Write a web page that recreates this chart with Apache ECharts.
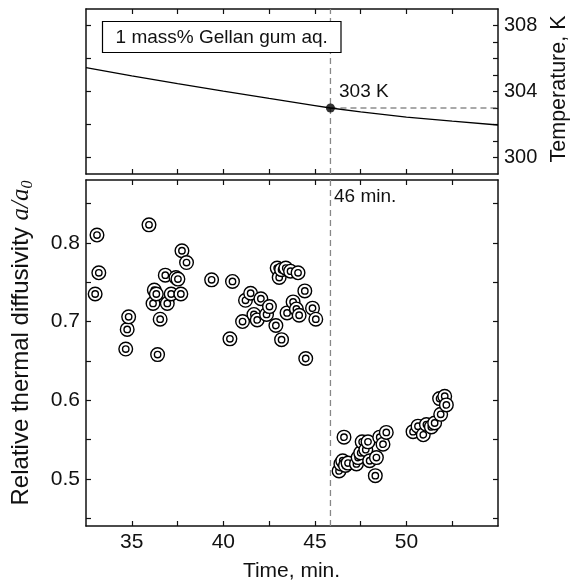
<!DOCTYPE html>
<html><head><meta charset="utf-8">
<script src="https://cdn.jsdelivr.net/npm/echarts@6/dist/echarts.min.js"></script>
<style>html,body{margin:0;padding:0;background:#fff}#c{width:570px;height:582px}</style>
</head><body><div id="c"></div>
<script>
// ---- data ----
const timeRange = [32.5, 55];
const tempRange = [299, 309];
const diffRange = [0.44, 0.88];
const markTime = 45.85;
const markTemp = 303;

const tempTime = [32.5, 35, 37.5, 40, 42.5, 45, 45.85, 47.5, 50, 52.5, 55];
const tempK    = [305.45, 304.95, 304.48, 304.02, 303.58, 303.15, 303.0, 302.76, 302.45, 302.2, 301.97];

const ptTime = [33.0, 33.1, 33.2, 34.67, 34.75, 34.83, 35.94, 36.41, 36.55, 36.16, 36.23, 36.34, 36.83, 36.94, 37.15, 37.41, 37.52, 37.68, 37.74, 37.99,
  39.36, 40.5, 40.36, 41.05, 41.21, 41.49, 41.67, 41.85, 42.05, 42.36, 42.52, 42.87, 43.18, 42.94, 43.05, 43.18, 43.41, 43.67, 44.08, 43.48, 43.81, 43.99, 44.14, 44.45, 44.87, 45.05, 44.5,
  46.32, 46.42, 46.52, 46.67, 46.81, 46.59, 47.27, 47.36, 47.50, 47.58, 47.78, 47.90, 47.99, 48.36, 48.30, 48.54, 48.72, 48.90,
  50.36, 50.63, 50.92, 51.09, 51.36, 51.54, 51.87, 51.81, 52.09, 52.18];
const ptValue = [0.735, 0.810, 0.762, 0.665, 0.690, 0.706, 0.823, 0.658, 0.703, 0.723, 0.740, 0.735, 0.759, 0.723, 0.735, 0.756, 0.754, 0.735, 0.790, 0.775,
  0.753, 0.751, 0.678, 0.700, 0.727, 0.736, 0.709, 0.702, 0.729, 0.709, 0.719, 0.695, 0.677, 0.768, 0.756, 0.766, 0.768, 0.764, 0.762, 0.711, 0.725, 0.716, 0.708, 0.739, 0.717, 0.703, 0.653,
  0.510, 0.519, 0.523, 0.517, 0.520, 0.553, 0.519, 0.527, 0.533, 0.547, 0.537, 0.547, 0.523, 0.527, 0.504, 0.553, 0.544, 0.559,
  0.560, 0.567, 0.556, 0.569, 0.566, 0.571, 0.582, 0.602, 0.605, 0.594];

const xTickLabels = [35, 40, 45, 50];
const xTicks = [35, 37.5, 40, 42.5, 45, 47.5, 50, 52.5];
const tempLabels = [300, 304, 308];
const tempTicksRight = [300, 301, 302, 303, 304, 305, 306, 307, 308];
const tempTicksLeft = [300, 302, 304, 306, 308];
const diffLabels = [0.5, 0.6, 0.7, 0.8];
const diffTicks = [0.45, 0.5, 0.55, 0.6, 0.65, 0.7, 0.75, 0.8, 0.85];

const legendText = '1 mass% Gellan gum aq.';
const markTimeText = '46 min.';
const markTempText = '303 K';
const xTitle = 'Time, min.';
const tempTitle = 'Temperature, K';

// ---- chart ----
const FONT = 'Liberation Sans, Arial, sans-serif';
const INK = '#111';
const axisLine = {show: true, onZero: false, lineStyle: {color: INK, width: 1.5}};
function xAx(grid, pos, labels) {
  return {type: 'value', gridIndex: grid, position: pos, min: timeRange[0], max: timeRange[1],
    axisLine, splitLine: {show: false},
    axisTick: {show: true, inside: true, length: 5, customValues: xTicks, lineStyle: {color: INK, width: 1.2}},
    axisLabel: labels ? {show: true, customValues: xTickLabels, fontSize: 21, color: INK, fontFamily: FONT, margin: 6} : {show: false}};
}
function yAx(grid, pos, range, ticks, labels, fs) {
  return {type: 'value', gridIndex: grid, position: pos, min: range[0], max: range[1],
    axisLine, splitLine: {show: false},
    axisTick: {show: true, inside: true, length: 5, customValues: ticks, lineStyle: {color: INK, width: 1.2}},
    axisLabel: labels ? {show: true, customValues: labels, fontSize: fs, color: INK, fontFamily: FONT, margin: 6} : {show: false}};
}

const chart = echarts.init(document.getElementById('c'), null, {renderer: 'canvas'});
const dashed = {color: '#888', width: 1.3, type: [6, 4]};
chart.setOption({
  animation: false,
  backgroundColor: '#fff',
  grid: [
    {left: 86, right: 72, top: 9, height: 165},
    {left: 86, right: 72, top: 180, height: 346}
  ],
  xAxis: [xAx(0, 'bottom', false), xAx(0, 'top', false), xAx(1, 'bottom', true), xAx(1, 'top', false)],
  yAxis: [
    yAx(0, 'right', tempRange, tempTicksRight, tempLabels, 20),
    yAx(0, 'left', tempRange, tempTicksLeft, null),
    yAx(1, 'left', diffRange, diffTicks, diffLabels, 21),
    yAx(1, 'right', diffRange, diffTicks, null)
  ],
  series: [
    {type: 'line', xAxisIndex: 0, yAxisIndex: 0, silent: true, symbol: 'none', z: 1,
      data: [[markTime, tempRange[0]], [markTime, tempRange[1]]], lineStyle: dashed},
    {type: 'line', xAxisIndex: 0, yAxisIndex: 0, silent: true, symbol: 'none', z: 1,
      data: [[markTime, markTemp], [timeRange[1], markTemp]], lineStyle: {color: '#555', width: 1.2, type: [6, 4]}},
    {type: 'line', xAxisIndex: 0, yAxisIndex: 0, symbol: 'none', z: 2,
      data: tempTime.map((t, i) => [t, tempK[i]]), lineStyle: {color: '#000', width: 1.3}},
    {type: 'scatter', xAxisIndex: 0, yAxisIndex: 0, symbolSize: 9, z: 3,
      itemStyle: {color: '#000'}, data: [[markTime, markTemp]]},
    {type: 'line', xAxisIndex: 2, yAxisIndex: 2, silent: true, symbol: 'none', z: 1,
      data: [[markTime, diffRange[0]], [markTime, diffRange[1]]], lineStyle: dashed},
    {type: 'custom', xAxisIndex: 2, yAxisIndex: 2, z: 3, clip: true,
      data: ptTime.map((t, i) => [t, ptValue[i]]),
      renderItem: function (params, api) {
        const p = api.coord([api.value(0), api.value(1)]);
        return {type: 'group', children: [
          {type: 'circle', shape: {cx: p[0], cy: p[1], r: 6.8}, style: {fill: '#fff', stroke: '#000', lineWidth: 1.4}},
          {type: 'circle', shape: {cx: p[0], cy: p[1], r: 3.2}, style: {fill: '#fff', stroke: '#000', lineWidth: 1.4}}
        ]};
      }}
  ],
  graphic: [
    {type: 'rect', shape: {x: 102.5, y: 21.5, width: 238.5, height: 31}, style: {fill: '#fff', stroke: '#000', lineWidth: 1.2}, z: 10},
    {type: 'text', x: 221.7, y: 37.5, z: 11, style: {text: legendText, fontSize: 19, fontFamily: FONT, fill: INK, align: 'center', verticalAlign: 'middle'}},
    {type: 'text', x: 339, y: 92, z: 11, style: {text: markTempText, fontSize: 19, fontFamily: FONT, fill: INK, align: 'left', verticalAlign: 'middle'}},
    {type: 'text', x: 334, y: 197, z: 11, style: {text: markTimeText, fontSize: 19, fontFamily: FONT, fill: INK, align: 'left', verticalAlign: 'middle'}},
    {type: 'text', x: 291.5, y: 571, z: 11, style: {text: xTitle, fontSize: 21, fontFamily: FONT, fill: INK, align: 'center', verticalAlign: 'middle'}},
    {type: 'text', x: 559, y: 89, rotation: Math.PI / 2, z: 11, style: {text: tempTitle, fontSize: 21.5, fontFamily: FONT, fill: INK, align: 'center', verticalAlign: 'middle'}},
    {type: 'text', x: 21, y: 343, rotation: Math.PI / 2, z: 11, style: {
      text: 'Relative thermal diffusivity {i|a}{i|/}{i|a}{s|0}',
      fontSize: 24, fontFamily: FONT, fill: INK, align: 'center', verticalAlign: 'middle', lineHeight: 30,
      rich: {
        i: {fontSize: 25, fontFamily: 'Liberation Serif, serif', fontStyle: 'italic', fill: INK, lineHeight: 30},
        s: {fontSize: 16, fontFamily: 'Liberation Serif, serif', fontStyle: 'italic', fill: INK, lineHeight: 16, verticalAlign: 'bottom'}
      }}}
  ]
});
</script></body></html>
